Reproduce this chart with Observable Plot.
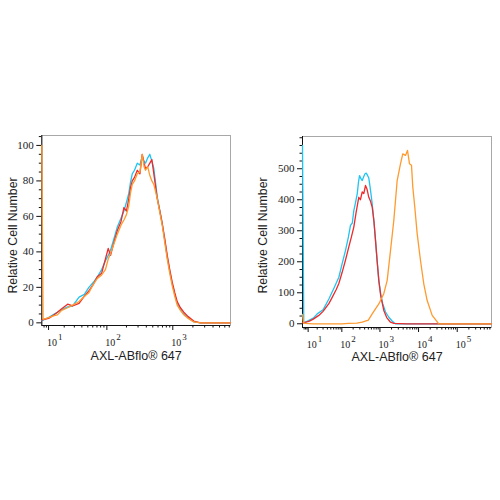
<!DOCTYPE html>
<html>
<head>
<meta charset="utf-8">
<script src="https://cdn.jsdelivr.net/npm/d3@7"></script>
<script src="https://cdn.jsdelivr.net/npm/@observablehq/plot@0.6"></script>
<style>
  body { margin: 0; background: #fff; }
  #wrap { position: relative; width: 500px; height: 500px; overflow: hidden; background: #fff; }
  #wrap svg { position: absolute; top: 0; }
</style>
</head>
<body>
<div id="wrap"></div>
<script>
// ---------- data ----------
const seriesColors = { red: "#ee2a2a", blue: "#1fc4f2", orange: "#ff9a2e" };
const xAxisLabel = "AXL-ABflo® 647";
const yAxisLabel = "Relative Cell Number";

// left panel (shared x grid, fluorescence units)
const leftX = [7.1, 7.6, 10, 13, 15, 18, 23, 28, 36, 44, 52, 62, 71, 83, 95, 105, 114, 130, 145, 165, 183, 200, 217, 230, 245, 265, 292, 320, 347, 370, 389, 420, 452, 485, 519, 584, 640, 694, 760, 825, 900, 980, 1070, 1164, 1300, 1462, 1700, 2060, 2600, 3500, 7300];
const leftBlue = [1.3, 1.5, 3, 5, 6, 7.5, 9, 9.5, 14.5, 16, 20, 23, 26, 30, 35, 38, 41, 48, 54, 59, 63, 68, 73, 79, 84, 86, 90, 89, 94, 91, 90, 93, 95, 91, 87, 71, 63, 56, 46, 37, 29, 22, 16, 11, 7.5, 5, 3, 0.5, 0, 0, 0];
const leftRed = [1.5, 1.8, 2.5, 4.5, 6, 8, 10.5, 9.5, 11, 15, 18, 22, 26, 28, 36, 42, 38, 46, 52, 57, 65, 63, 70, 76, 80, 82, 86, 84, 95, 90, 87, 88, 90, 92, 84, 70, 63, 56, 47, 38, 30, 23, 17, 12, 8.5, 6, 3.5, 1, 0, 0, 0];
const leftOrange = [100, 2, 3, 4, 4.5, 7, 8.5, 10, 12, 15, 17, 22, 25, 27, 30, 36, 39, 45, 50, 55, 58, 61, 66, 73, 78, 80, 84, 85, 95, 88, 86, 88, 83, 80, 78, 70, 62, 55, 45, 36, 28, 21, 15, 10, 7, 4.5, 2.5, 0.5, 0, 0, 0];

// right panel
const rightBlueX = [6, 6.8, 10.6, 15, 20, 30, 44, 60, 83, 100, 125, 150, 170, 190, 208, 230, 256, 275, 294, 320, 346, 380, 410, 439, 470, 514, 570, 630, 700, 768, 850, 935, 1050, 1187, 1400, 1700, 2100, 2530, 5000, 770000];
const rightBlueY = [575, 2, 11, 18, 32, 45, 80, 113, 150, 190, 236, 280, 317, 325, 365, 390, 419, 455, 478, 468, 462, 475, 484, 486, 480, 470, 430, 387, 330, 269, 200, 140, 95, 64, 38, 21, 8, 0, 0, 0];
const rightRedX = [6, 6.8, 10.6, 15, 22.4, 30, 44, 55, 70, 83, 102, 125, 153, 180, 208, 240, 281, 310, 346, 380, 422, 460, 514, 570, 630, 700, 768, 850, 935, 1050, 1260, 1500, 1880, 2300, 5000, 770000];
const rightRedY = [3, 4, 8, 15, 27, 40, 65, 86, 110, 130, 166, 205, 247, 280, 312, 360, 408, 400, 425, 420, 446, 435, 408, 395, 376, 330, 269, 200, 140, 90, 43, 20, 5, 1, 0, 0];
const rightOrangeX = [6, 6.6, 8, 15, 50, 100, 150, 250, 346, 500, 630, 935, 1260, 1544, 1880, 2290, 2800, 3410, 3910, 4600, 5180, 5840, 6570, 7100, 8000, 9230, 11230, 13660, 16730, 22540, 33400, 770000];
const rightOrangeY = [30, 3, 1, 0, 0, 0, 1, 2, 5, 12, 32, 64, 97, 140, 236, 333, 462, 516, 548, 543, 559, 516, 511, 441, 376, 290, 204, 129, 75, 27, 0, 0];

// ticks
const leftYMajor = [0, 20, 40, 60, 80, 100];
const leftYMinor = [5, 10, 15, 25, 30, 35, 45, 50, 55, 65, 70, 75, 85, 90, 95, 105];
const rightYMajor = [0, 100, 200, 300, 400, 500];
const rightYMinor = [25, 50, 75, 125, 150, 175, 225, 250, 275, 325, 350, 375, 425, 450, 475, 525, 550, 575, 600];
const leftXMajor = [10, 100, 1000];
const leftXMinor = [8, 9, 20, 30, 40, 50, 60, 70, 80, 90, 200, 300, 400, 500, 600, 700, 800, 900, 2000, 3000, 4000, 5000, 6000, 7000];
const rightXMajor = [10, 100, 1000, 10000, 100000];
const rightXMinor = [7, 8, 9, 20, 30, 40, 50, 60, 70, 80, 90, 200, 300, 400, 500, 600, 700, 800, 900, 2000, 3000, 4000, 5000, 6000, 7000, 8000, 9000, 20000, 30000, 40000, 50000, 60000, 70000, 80000, 90000, 200000, 300000, 400000, 500000, 600000, 700000];

// ---------- drawing ----------
const NS = "http://www.w3.org/2000/svg";
const SANS = "'Liberation Sans', Arial, sans-serif";
const SERIF = "'Liberation Serif', 'Times New Roman', serif";
const rows = (xs, ys) => xs.map((x, i) => ({ x, y: ys[i] }));

function panel(cfg) {
  const lines = cfg.series.map(s =>
    Plot.line(rows(s.x, s.y), { x: "x", y: "y", stroke: s.color, strokeWidth: 1.3 })
  );
  const svg = Plot.plot({
    width: 250, height: 500,
    marginLeft: cfg.ml, marginRight: cfg.mr, marginTop: cfg.mt, marginBottom: cfg.mb,
    style: { fontFamily: SERIF, fontSize: "11px", background: "transparent", color: "#111" },
    x: { type: "symlog", constant: 4, domain: cfg.xDomain },
    y: { domain: cfg.yDomain },
    marks: [
      Plot.frame({ stroke: "#a8a8a8" }),
      Plot.ruleX([cfg.xDomain[0]], { stroke: "#111" }),
      Plot.ruleY([cfg.yDomain[0]], { stroke: "#111" }),
      Plot.axisY({ ticks: cfg.yMajor, tickSize: 5, tickPadding: 3, label: null, fontSize: 11, fontFamily: SERIF, fill: "#1a1a1a" }),
      Plot.axisY({ ticks: cfg.yMinor, tickSize: 2.5, tickFormat: () => "", label: null }),
      Plot.axisX({ ticks: cfg.xMajor, tickSize: 5, tickPadding: 8, label: null, fontSize: 10, fontFamily: SERIF, fill: "#1a1a1a",
        tickFormat: d => "10^" + Math.round(Math.log10(d)) }),
      Plot.axisX({ ticks: cfg.xMinor, tickSize: 2.5, tickFormat: () => "", label: null }),
      ...lines,
      Plot.text([yAxisLabel], { text: d => d, frameAnchor: "left", textAnchor: "middle", rotate: -90,
        dx: cfg.yLabelDx, dy: cfg.yLabelDy, fontFamily: SANS, fontSize: 12.3, fill: "#222" }),
      Plot.text([xAxisLabel], { text: d => d, frameAnchor: "bottom", textAnchor: "middle", dy: cfg.xLabelDy,
        fontFamily: SANS, fontSize: 12.5, fill: "#222" })
    ]
  });
  // superscript exponents on the decade labels
  svg.querySelectorAll('g[aria-label="x-axis tick label"] text').forEach(t => {
    const s = t.textContent;
    if (!s.includes("^")) return;
    const [b, e] = s.split("^");
    while (t.firstChild) t.removeChild(t.firstChild);
    t.setAttribute("text-anchor", "start");
    t.setAttribute("dx", "-1.5");
    const a = document.createElementNS(NS, "tspan");
    a.textContent = b;
    const c = document.createElementNS(NS, "tspan");
    c.textContent = e;
    c.setAttribute("dy", "-0.65em");
    c.setAttribute("dx", "1");
    c.setAttribute("font-size", "9");
    t.append(a, c);
  });
  svg.style.left = cfg.left + "px";
  return svg;
}

const wrap = document.getElementById("wrap");
wrap.append(panel({
  left: 0, ml: 41.3, mr: 20, mt: 135, mb: 175,
  xDomain: [7.1, 7300], yDomain: [-1.5, 105.6],
  yMajor: leftYMajor, yMinor: leftYMinor, xMajor: leftXMajor, xMinor: leftXMinor,
  yLabelDx: -28.3, yLabelDy: 5, xLabelDy: 34,
  series: [
    { x: leftX, y: leftBlue, color: seriesColors.blue },
    { x: leftX, y: leftRed, color: seriesColors.red },
    { x: leftX, y: leftOrange, color: seriesColors.orange }
  ]
}));
wrap.append(panel({
  left: 250, ml: 52, mr: 9, mt: 136, mb: 173,
  xDomain: [6, 770000], yDomain: [-12, 604],
  yMajor: rightYMajor, yMinor: rightYMinor, xMajor: rightXMajor, xMinor: rightXMinor,
  yLabelDx: -39, yLabelDy: 3.5, xLabelDy: 33,
  series: [
    { x: rightBlueX, y: rightBlueY, color: seriesColors.blue },
    { x: rightRedX, y: rightRedY, color: seriesColors.red },
    { x: rightOrangeX, y: rightOrangeY, color: seriesColors.orange }
  ]
}));
</script>
</body>
</html>
